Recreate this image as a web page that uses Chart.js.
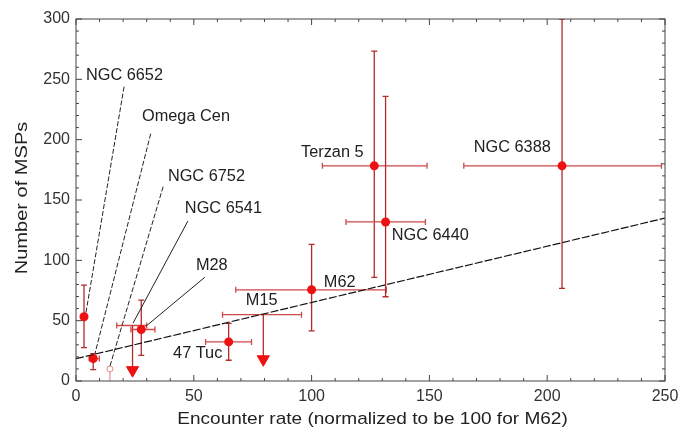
<!DOCTYPE html>
<html>
<head>
<meta charset="utf-8">
<script src="https://cdn.jsdelivr.net/npm/chart.js@4.4.0/dist/chart.umd.min.js"></script>
<style>
  body { margin: 0; background: #fff; }
  #wrap { width: 680px; height: 437px; }
</style>
</head>
<body>
<div id="wrap"><canvas id="chart"></canvas></div>
<script>
// clusters
var names  = ['NGC 6652', 'Omega Cen', 'NGC 6752', 'NGC 6541', 'M28', '47 Tuc', 'M15', 'M62', 'Terzan 5', 'NGC 6440', 'NGC 6388'];
var kind   = ['det', 'det', 'open', 'limit', 'det', 'det', 'limit', 'det', 'det', 'det', 'det'];
var rate   = [3.4, 7.3, 14.4, 24, 27.7, 64.8, 79.5, 100, 126.6, 131.4, 206.3];
var rateLo = [3.4, 5.6, 14.4, 17.3, 23.3, 55, 62.2, 67.8, 104.6, 114.6, 164.6];
var rateHi = [3.4, 9.9, 14.4, 30, 33.5, 74.5, 95.7, 131.7, 149, 148.3, 248.5];
var msps   = [53.2, 18.6, 10, 46, 42.7, 32.4, 55, 75.6, 178.3, 131.8, 178.3];
var mspsLo = [27.7, 9.5, 0, 9, 21.3, 17.2, 18, 41.5, 85.9, 69.8, 76.7];
var mspsHi = [79.5, 22.7, 10, 46, 67, 47.7, 55, 113.3, 273.3, 235.9, 300];

// linear fit
var fitX = [0, 250];
var fitY = [18.5, 135];

// axis ticks
var xTicks = [0, 50, 100, 150, 200, 250];
var yTicks = [0, 50, 100, 150, 200, 250, 300];

// label anchors (data units) and leader lines
var labelX = [4.2, 28, 39, 46.2, 50.9, 41.2, 72.1, 105.2, 95.5, 134, 168.8];
var labelY = [253, 219, 169.2, 142.6, 95.3, 23, 67, 81.9, 189, 120.2, 193.2];
var leaderNames = ['NGC 6652', 'Omega Cen', 'NGC 6752', 'NGC 6541', 'M28'];
var leaderX0 = [20.4, 31.7, 37, 47.5, 54.7];
var leaderY0 = [243.9, 204.9, 161.1, 132.6, 86];
var leaderX1 = [4.2, 8.1, 14.4, 24.2, 29.7];
var leaderY1 = [56.3, 23, 12.2, 47.9, 45.4];
var leaderDashed = [true, true, true, false, false];

var xTitle = 'Encounter rate (normalized to be 100 for M62)';
var yTitle = 'Number of MSPs';

var detPts = [], limPts = [], openPts = [];
names.forEach(function (n, i) {
    if (kind[i] == 'det') detPts.push({ x: rate[i], y: msps[i] });
    else if (kind[i] == 'limit') limPts.push({ x: rate[i], y: mspsLo[i] });
    else openPts.push({ x: rate[i], y: msps[i] });
});

var leaderSets = leaderNames.map(function (n, i) {
    return {
        type: 'line',
        data: [{ x: leaderX0[i], y: leaderY0[i] }, { x: leaderX1[i], y: leaderY1[i] }],
        borderColor: '#222',
        borderWidth: 1,
        borderDash: leaderDashed[i] ? [5, 2] : [],
        pointRadius: 0,
        fill: false
    };
});

var errorBars = {
    id: 'errorBars',
    beforeDatasetsDraw: function (chart) {
        var ctx = chart.ctx, xs = chart.scales.x, ys = chart.scales.y;
        var a = chart.chartArea;
        ctx.save();
        ctx.beginPath();
        ctx.rect(a.left, a.top, a.right - a.left, a.bottom - a.top);
        ctx.clip();
        ctx.lineWidth = 1.3;
        names.forEach(function (n, i) {
            var px = xs.getPixelForValue(rate[i]);
            var py = ys.getPixelForValue(msps[i]);
            // horizontal
            if (rateHi[i] > rateLo[i]) {
                var x0 = xs.getPixelForValue(rateLo[i]), x1 = xs.getPixelForValue(rateHi[i]);
                ctx.strokeStyle = '#d04848';
                ctx.beginPath();
                ctx.moveTo(x0, py); ctx.lineTo(x1, py);
                ctx.moveTo(x0, py - 3); ctx.lineTo(x0, py + 3);
                ctx.moveTo(x1, py - 3); ctx.lineTo(x1, py + 3);
                ctx.stroke();
            }
            // vertical
            var y0 = ys.getPixelForValue(mspsLo[i]), y1 = ys.getPixelForValue(mspsHi[i]);
            ctx.strokeStyle = kind[i] == 'open' ? '#e79a9a' : '#b22a2a';
            ctx.beginPath();
            ctx.moveTo(px, y0); ctx.lineTo(px, y1);
            if (kind[i] == 'det') {
                ctx.moveTo(px - 3, y0); ctx.lineTo(px + 3, y0);
                ctx.moveTo(px - 3, y1); ctx.lineTo(px + 3, y1);
            }
            ctx.stroke();
        });
        ctx.restore();
    }
};

// text a bit wider than the font, as in the original figure
function wideText(ctx, txt, x, y, sx, angle) {
    ctx.save();
    ctx.translate(x, y);
    if (angle) ctx.rotate(angle);
    ctx.scale(sx, 1);
    ctx.fillText(txt, 0, 0);
    ctx.restore();
}

var frame = {
    id: 'frame',
    afterDatasetsDraw: function (chart) {
        var ctx = chart.ctx, xs = chart.scales.x, ys = chart.scales.y;
        var a = chart.chartArea;
        ctx.save();
        ctx.strokeStyle = '#444';
        ctx.lineWidth = 1;
        ctx.strokeRect(a.left, a.top, a.right - a.left, a.bottom - a.top);
        ctx.beginPath();
        for (var v = 0; v <= 250; v += 10) {
            var len = v % 50 == 0 ? 6 : 3;
            var p = xs.getPixelForValue(v);
            ctx.moveTo(p, a.bottom); ctx.lineTo(p, a.bottom - len);
            ctx.moveTo(p, a.top); ctx.lineTo(p, a.top + len);
        }
        for (var w = 0; w <= 300; w += 10) {
            var len2 = w % 50 == 0 ? 6 : 3;
            var q = ys.getPixelForValue(w);
            ctx.moveTo(a.left, q); ctx.lineTo(a.left + len2, q);
            ctx.moveTo(a.right, q); ctx.lineTo(a.right - len2, q);
        }
        ctx.stroke();

        // cluster names
        ctx.fillStyle = '#222';
        ctx.font = '16px "Liberation Sans", Arial, sans-serif';
        ctx.textAlign = 'left';
        ctx.textBaseline = 'middle';
        names.forEach(function (n, i) {
            wideText(ctx, n, xs.getPixelForValue(labelX[i]), ys.getPixelForValue(labelY[i]), 1.02);
        });

        // axis titles
        ctx.font = '17px "Liberation Sans", Arial, sans-serif';
        ctx.textAlign = 'center';
        wideText(ctx, xTitle, (a.left + a.right) / 2 + 2, a.bottom + 38, 1.12);
        wideText(ctx, yTitle, a.left - 54, (a.top + a.bottom) / 2 - 2, 1.18, -Math.PI / 2);
        ctx.restore();
    }
};

Chart.defaults.font.family = '"Liberation Sans", Arial, sans-serif';
Chart.defaults.color = '#333';

new Chart(document.getElementById('chart'), {
    type: 'scatter',
    data: {
        datasets: [{
            type: 'line',
            data: fitX.map(function (x, i) { return { x: x, y: fitY[i] }; }),
            borderColor: '#111',
            borderWidth: 1.2,
            borderDash: [8, 2],
            pointRadius: 0,
            fill: false
        }].concat(leaderSets).concat([{
            data: openPts,
            pointStyle: 'circle',
            pointRadius: 3,
            backgroundColor: '#fff',
            borderColor: '#e08a8a',
            borderWidth: 1
        }, {
            data: limPts,
            pointStyle: 'triangle',
            rotation: 180,
            pointRadius: 7,
            backgroundColor: '#ee1111',
            borderColor: '#ee1111',
            borderWidth: 1
        }, {
            data: detPts,
            pointStyle: 'circle',
            pointRadius: 4.5,
            backgroundColor: '#ee1111',
            borderColor: '#ee1111',
            borderWidth: 0
        }])
    },
    options: {
        responsive: true,
        maintainAspectRatio: false,
        animation: false,
        layout: { padding: { top: 19, right: 15, left: 0, bottom: 0 } },
        plugins: {
            legend: { display: false },
            tooltip: { enabled: false }
        },
        scales: {
            x: {
                type: 'linear',
                min: 0,
                max: 250,
                afterBuildTicks: function (s) { s.ticks = xTicks.map(function (v) { return { value: v }; }); },
                afterFit: function (s) { s.height = 56; s.paddingRight = 0; s.paddingLeft = 0; },
                ticks: { font: { size: 16 }, padding: 6, maxRotation: 0 },
                grid: { display: false, drawTicks: false },
                border: { display: false }
            },
            y: {
                type: 'linear',
                min: 0,
                max: 300,
                afterBuildTicks: function (s) { s.ticks = yTicks.map(function (v) { return { value: v }; }); },
                afterFit: function (s) { s.width = 76; s.paddingTop = 0; s.paddingBottom = 0; },
                ticks: { font: { size: 16 }, padding: 6 },
                grid: { display: false, drawTicks: false },
                border: { display: false }
            }
        }
    },
    plugins: [errorBars, frame]
});
</script>
</body>
</html>
